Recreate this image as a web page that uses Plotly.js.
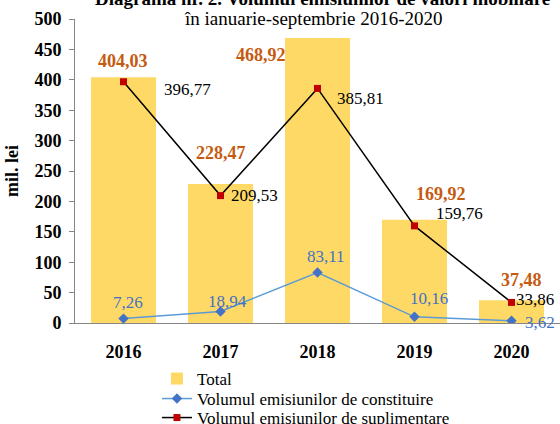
<!DOCTYPE html>
<html>
<head>
<meta charset="utf-8">
<script src="https://cdn.plot.ly/plotly-3.0.1.min.js"></script>
<style>
  html, body { margin: 0; padding: 0; background: #fff; }
  #chart { width: 560px; height: 424px; }
</style>
</head>
<body>
<div id="chart"></div>
<script>
// ---- data ----
var years = ['2016', '2017', '2018', '2019', '2020'];
var total = [404.03, 228.47, 468.92, 169.92, 37.48];
var constituire = [7.26, 18.94, 83.11, 10.16, 3.62];
var suplimentare = [396.77, 209.53, 385.81, 159.76, 33.86];
var seriesNames = ['Total', 'Volumul emisiunilor de constituire', 'Volumul emisiunilor de suplimentare'];
var titleLine1 = 'Diagrama nr. 2. Volumul emisiunilor de valori mobiliare';
var titleLine2 = 'în ianuarie-septembrie 2016-2020';
var yTitle = 'mil. lei';

// ---- label offsets (pixels) ----
var totalOff = [[-1, 16], [0, 31], [-57, -17], [26, 26], [10, 20]];
var supOff = [[64, -8], [34, 0], [43, -10], [45, 12], [23, 3]];
var conOff = [[4, 16], [7, 10], [8, 16], [14, 18], [28, -2]];

var FONT = "'Liberation Serif', 'Times New Roman', serif";
function fmt(v) { return v.toFixed(2).replace('.', ','); }

var traces = [
  {
    type: 'bar', x: years, y: total, name: seriesNames[0],
    width: 0.67, legend: 'legend',
    marker: { color: '#FFD966' }
  },
  {
    type: 'scatter', mode: 'lines+markers', x: years, y: constituire, name: seriesNames[1],
    legend: 'legend2',
    line: { color: '#5B9BD5', width: 1.5 },
    marker: { symbol: 'diamond', size: 8, color: '#4472C4' }
  },
  {
    type: 'scatter', mode: 'lines+markers', x: years, y: suplimentare, name: seriesNames[2],
    legend: 'legend3',
    line: { color: '#000000', width: 1.5 },
    marker: { symbol: 'square', size: 7, color: '#C00000' }
  }
];

var annotations = [];
years.forEach(function (yr, i) {
  annotations.push({
    x: i, y: total[i], xref: 'x', yref: 'y', text: '<b>' + fmt(total[i]) + '</b>',
    showarrow: false, xshift: totalOff[i][0], yshift: totalOff[i][1],
    font: { family: FONT, size: 18, color: '#C55A11' }
  });
  annotations.push({
    x: i, y: suplimentare[i], xref: 'x', yref: 'y', text: fmt(suplimentare[i]),
    showarrow: false, xshift: supOff[i][0], yshift: supOff[i][1],
    font: { family: FONT, size: 17, color: '#000000' }
  });
  annotations.push({
    x: i, y: constituire[i], xref: 'x', yref: 'y', text: fmt(constituire[i]),
    showarrow: false, xshift: conOff[i][0], yshift: conOff[i][1],
    font: { family: FONT, size: 17, color: '#4472C4' }
  });
});
annotations.push({
  xref: 'paper', yref: 'paper', x: 0.037, y: 1.069, xanchor: 'left', yanchor: 'middle',
  text: '<b>' + titleLine1 + '</b>', showarrow: false,
  font: { family: FONT, size: 19, color: '#000' }
});
annotations.push({
  xref: 'paper', yref: 'paper', x: 0.491, y: 1.003, xanchor: 'center', yanchor: 'middle',
  text: titleLine2, showarrow: false,
  font: { family: FONT, size: 19, color: '#000' }
});

function legendAt(yPaper) {
  return {
    x: 0.169, y: yPaper, xanchor: 'left', yanchor: 'top',
    orientation: 'v', font: { family: FONT, size: 17, color: '#000' },
    itemwidth: 30, bgcolor: 'rgba(0,0,0,0)', borderwidth: 0
  };
}

var layout = {
  width: 560, height: 424,
  margin: { l: 75, r: 0, t: 19, b: 101, pad: 0, autoexpand: false },
  paper_bgcolor: '#fff', plot_bgcolor: '#fff',
  showlegend: true,
  legend: legendAt(-0.125),
  legend2: legendAt(-0.1908),
  legend3: legendAt(-0.2533),
  xaxis: {
    type: 'category', range: [-0.5, 4.5], showgrid: false, zeroline: false,
    showline: true, linecolor: '#868686', linewidth: 1,
    ticks: '', ticklabelstandoff: 12,
    tickfont: { family: FONT, size: 18, color: '#000', weight: 'bold' }
  },
  yaxis: {
    range: [0, 500], dtick: 50, showgrid: false, zeroline: false,
    showline: true, linecolor: '#868686', linewidth: 1,
    ticks: 'outside', ticklen: 5, tickcolor: '#868686',
    ticklabelstandoff: 4,
    tickfont: { family: FONT, size: 18, color: '#000', weight: 'bold' },
    title: { text: '<b>' + yTitle + '</b>', font: { family: FONT, size: 18, color: '#000' }, standoff: 11 }
  },
  annotations: annotations,
  hovermode: false
};

Plotly.newPlot('chart', traces, layout, { displayModeBar: false, staticPlot: true });
</script>
</body>
</html>
